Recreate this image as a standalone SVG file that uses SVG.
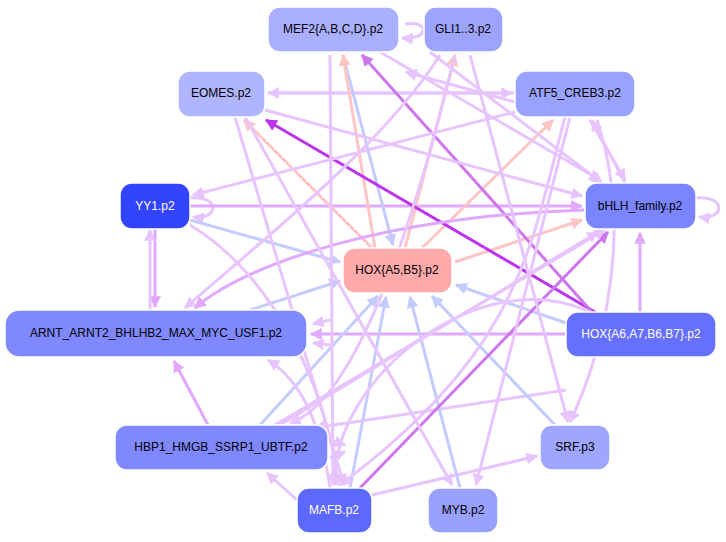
<svg xmlns="http://www.w3.org/2000/svg" width="726" height="542" viewBox="0 0 726 542">
<style>
.n rect{stroke:#fff;stroke-width:1.5}
.n text{font-family:"Liberation Sans",Arial,sans-serif;font-size:12px;text-anchor:middle;dominant-baseline:central}
.w text{fill:#fff}
.e path{fill:none;stroke-width:3}
.l{stroke:#e8c4ff;marker-end:url(#ml)}
.p{stroke:#ffc4c4;marker-end:url(#mp)}
.b{stroke:#c4cbff;marker-end:url(#mb)}
.s{stroke:#bb33ee;marker-end:url(#ms)}
.m{stroke:#cc77ee;marker-end:url(#mm)}
.d{stroke:#e0a8ff;marker-end:url(#md)}
</style>
<defs>
<marker id="ml" viewBox="0 0 10 10" refX="9" refY="5" markerWidth="4" markerHeight="4" orient="auto"><path d="M0,0L10,5L0,10z" fill="#e8c4ff"/></marker>
<marker id="mp" viewBox="0 0 10 10" refX="9" refY="5" markerWidth="4" markerHeight="4" orient="auto"><path d="M0,0L10,5L0,10z" fill="#ffc4c4"/></marker>
<marker id="mb" viewBox="0 0 10 10" refX="9" refY="5" markerWidth="4" markerHeight="4" orient="auto"><path d="M0,0L10,5L0,10z" fill="#c4cbff"/></marker>
<marker id="ms" viewBox="0 0 10 10" refX="9" refY="5" markerWidth="4" markerHeight="4" orient="auto"><path d="M0,0L10,5L0,10z" fill="#bb33ee"/></marker>
<marker id="mm" viewBox="0 0 10 10" refX="9" refY="5" markerWidth="4" markerHeight="4" orient="auto"><path d="M0,0L10,5L0,10z" fill="#cc77ee"/></marker>
<marker id="md" viewBox="0 0 10 10" refX="9" refY="5" markerWidth="4" markerHeight="4" orient="auto"><path d="M0,0L10,5L0,10z" fill="#e0a8ff"/></marker>
</defs>
<rect width="726" height="542" fill="#fff"/>
<g id="edges" class="e">
<path class="l" d="M405,24 C430,20 430,40 402,38"/>
<path class="l" d="M190,198 C220,195 220,220 193,217"/>
<path class="l" d="M696,198 C726,195 726,220 699,217"/>
<path class="l" d="M515,93 L268,93"/>
<path class="l" d="M268,93 L512,93"/>
<path class="d" d="M190,206 L582,206"/>
<path class="d" d="M155,229 L155,307"/>
<path class="b" d="M190,220 L340,262"/>
<path class="b" d="M343,55 L393,245"/>
<path class="p" d="M375,248 L343,55"/>
<path class="p" d="M405,248 L455,55"/>
<path class="p" d="M422,248 L553,120"/>
<path class="p" d="M372,248 L244,120"/>
<path class="p" d="M455,262 L582,220"/>
<path class="s" d="M600,315 L266,120"/>
<path class="m" d="M592,312 L362,55"/>
<path class="b" d="M566,323 L456,285"/>
<path class="d" d="M566,334 L311,334"/>
<path class="d" d="M640,312 L640,233"/>
<path class="l" d="M566,390 L314,428"/>
<path class="b" d="M250,310 L340,281"/>
<path class="d" d="M208,425 L174,361"/>
<path class="l" d="M297,500 L267,473"/>
<path class="l" d="M372,495 L537,456"/>
<path class="b" d="M460,488 L410,297"/>
<path class="b" d="M555,425 L432,296"/>
<path class="b" d="M350,488 L386,297"/>
<path class="b" d="M260,425 L378,296"/>
<path class="m" d="M360,488 L608,232"/>
<path class="l" d="M280,425 L598,232"/>
<path class="l" d="M275,425 L605,230"/>
<path class="d" d="M585,210 C400,215 250,260 195,308"/>
<path class="l" d="M440,55 C380,150 250,250 185,308"/>
<path class="l" d="M515,112 L193,195"/>
<path class="l" d="M265,110 L582,196"/>
<path class="l" d="M380,52 L600,180"/>
<path class="l" d="M430,52 L602,183"/>
<path class="l" d="M590,120 L625,180"/>
<path class="l" d="M625,183 L592,120"/>
<path class="l" d="M515,102 L406,72"/>
<path class="l" d="M235,117 L344,485"/>
<path class="l" d="M245,117 L452,485"/>
<path class="l" d="M330,55 L333,485"/>
<path class="l" d="M470,55 L568,422"/>
<path class="l" d="M570,117 L476,485"/>
<path class="l" d="M565,117 C530,250 520,350 340,485"/>
<path class="l" d="M190,225 C280,280 330,400 338,485"/>
<path class="l" d="M330,488 C320,420 300,380 268,360"/>
<path class="l" d="M455,55 C420,200 360,400 290,423"/>
<path class="l" d="M597,120 C640,250 590,380 570,422"/>
<path class="l" d="M590,312 C480,260 330,380 335,485"/>
<path class="l" d="M330,440 L345,445"/>
<path class="l" d="M330,458 L345,452"/>
<path class="l" d="M330,320 L313,324"/>
<path class="l" d="M330,345 L313,343"/>
<path class="l" d="M150,310 L150,230"/>
</g>
<g id="n-mef2" class="n"><rect x="268" y="7" width="131" height="45" rx="12" fill="#aab0ff"/><text x="333" y="29">MEF2{A,B,C,D}.p2</text></g>
<g id="n-gli" class="n"><rect x="424" y="7" width="79" height="45" rx="12" fill="#9ca4ff"/><text x="463" y="29">GLI1..3.p2</text></g>
<g id="n-eomes" class="n"><rect x="178" y="71" width="87" height="46" rx="12" fill="#b0b5ff"/><text x="221" y="93">EOMES.p2</text></g>
<g id="n-atf5" class="n"><rect x="515" y="71" width="120" height="46" rx="12" fill="#9aa2ff"/><text x="575" y="93">ATF5_CREB3.p2</text></g>
<g id="n-yy1" class="n w"><rect x="120" y="183" width="70" height="46" rx="12" fill="#3344ff"/><text x="155" y="206">YY1.p2</text></g>
<g id="n-bhlh" class="n"><rect x="585" y="183" width="111" height="46" rx="12" fill="#7b85ff"/><text x="640" y="206">bHLH_family.p2</text></g>
<g id="n-hoxa5" class="n"><rect x="343" y="248" width="109" height="45" rx="12" fill="#ffaaaa"/><text x="397" y="270">HOX{A5,B5}.p2</text></g>
<g id="n-arnt" class="n"><rect x="5" y="310" width="302" height="47" rx="14" fill="#7f88ff"/><text x="156" y="333">ARNT_ARNT2_BHLHB2_MAX_MYC_USF1.p2</text></g>
<g id="n-hoxa6" class="n w"><rect x="566" y="312" width="150" height="45" rx="12" fill="#6670ff"/><text x="641" y="334">HOX{A6,A7,B6,B7}.p2</text></g>
<g id="n-hbp1" class="n"><rect x="115" y="425" width="213" height="45" rx="12" fill="#7f88ff"/><text x="221" y="447">HBP1_HMGB_SSRP1_UBTF.p2</text></g>
<g id="n-srf" class="n"><rect x="540" y="425" width="70" height="45" rx="12" fill="#9ea6ff"/><text x="575" y="447">SRF.p3</text></g>
<g id="n-mafb" class="n w"><rect x="297" y="488" width="75" height="45" rx="12" fill="#5d68ff"/><text x="334" y="510">MAFB.p2</text></g>
<g id="n-myb" class="n"><rect x="428" y="488" width="70" height="45" rx="12" fill="#99a1ff"/><text x="463" y="510">MYB.p2</text></g>
</svg>
